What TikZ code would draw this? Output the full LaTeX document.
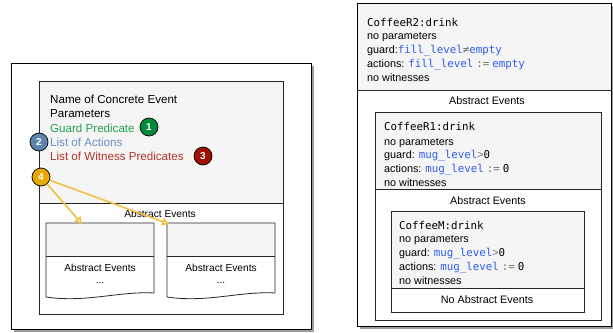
\documentclass[tikz,border=0pt]{standalone}
\usepackage{fontspec}
\setmainfont{Liberation Sans}
\setmonofont{DejaVu Sans Mono}
\usetikzlibrary{arrows.meta,shadows}
\definecolor{boxgray}{HTML}{F5F5F5}
\definecolor{gtext}{HTML}{23A04E}
\definecolor{gcirc}{HTML}{008A3A}
\definecolor{btext}{HTML}{6C8EBF}
\definecolor{bcirc}{HTML}{5E83AE}
\definecolor{rtext}{HTML}{B5332A}
\definecolor{rcirc}{HTML}{A20F05}
\definecolor{ycirc}{HTML}{E8A800}
\definecolor{yarrow}{HTML}{F2C044}
\definecolor{code}{HTML}{2E5CF0}
\definecolor{opgray}{HTML}{707070}
\newcommand{\cd}[1]{{\ttfamily\color{code}#1}}
\newcommand{\op}[1]{{\ttfamily\color{opgray}#1}}
\tikzset{
  outerbox/.style={draw=black, line width=0.9pt, fill=white, drop shadow={shadow xshift=2.5pt, shadow yshift=-2.5pt, fill=black!55, opacity=0.7}},
  ebox/.style={draw=black!85, line width=0.8pt},
  topfill/.style={fill=boxgray},
  bigtxt/.style={anchor=base west, inner sep=0pt, font=\fontsize{11.6}{14}\selectfont},
  txt/.style={anchor=base west, inner sep=0pt, font=\fontsize{10.8}{13}\selectfont},
  ctxt/.style={anchor=base, inner sep=0pt, font=\fontsize{10.8}{13}\selectfont},
  stxt/.style={anchor=base, inner sep=0pt, font=\fontsize{10.2}{12}\selectfont},
  badge/.style={circle, draw=black, line width=0.7pt, minimum size=18pt, inner sep=0pt, text=white, font=\fontsize{10}{10}\selectfont\bfseries},
  yarr/.style={draw=yarrow, line width=1.6pt, -{Triangle[open,length=7pt,width=8pt]}},
}
\begin{document}
\begin{tikzpicture}[x=1pt,y=-1pt]
\useasboundingbox (0,0) rectangle (613,332);

% ---------------- left diagram ----------------
\path[outerbox] (11,63) rectangle (311,329);
\fill[topfill] (39,81) rectangle (283,203);
\draw[ebox] (39,81) rectangle (283,314);
\draw[ebox] (39,203) -- (283,203);

\node[bigtxt] (name) at (50,103) {Name of Concrete Event};
\node[bigtxt] (params) at (50,117) {Parameters};
\node[bigtxt, text=gtext] (guard) at (50,132) {Guard Predicate};
\node[bigtxt, text=btext] (actions) at (50,146) {List of Actions};
\node[bigtxt, text=rtext] (witness) at (50,160) {List of Witness Predicates};

\node[stxt] (absL) at (160,217) {Abstract Events};

% documents
\foreach \xl/\xr/\nm in {46/154/docA, 167/275/docB}{
  \path[fill=boxgray] (\xl,223) rectangle (\xr,256);
  \draw[ebox, line join=round] (\xl,223) -- (\xr,223) -- (\xr,293)
     .. controls ({\xr-35},291) and ({\xl+40},303) .. (\xl,297) -- cycle;
  \draw[ebox] (\xl,256) -- (\xr,256);
  \coordinate (\nm) at ({(\xl+\xr)/2},223);
}
\node[stxt] (docAtxt) at (100,271) {Abstract Events};
\node[stxt] (docAdots) at (100,283) {...};
\node[stxt] (docBtxt) at (221,271) {Abstract Events};
\node[stxt] (docBdots) at (221,283) {...};

\coordinate (tipA) at (82,224);
\coordinate (tipB) at (169,224);

\node[badge, fill=gcirc] (b1) at (149,127) {1};
\node[badge, fill=bcirc] (b2) at (39,142) {2};
\node[badge, fill=rcirc] (b3) at (203,156) {3};
\node[badge, fill=ycirc] (b4) at (41,177) {4};

\draw[yarr] (b4) -- (tipA);
\draw[yarr] (b4) -- (tipB);

% ---------------- right diagram ----------------
\path[outerbox] (357,3) rectangle (611,326);
\fill[topfill] (357,3) rectangle (611,90);
\draw[line width=0.9pt] (357,3) rectangle (611,326);
\draw[ebox] (357,90) -- (611,90);

\node[txt] (r2name) at (367,26) {\ttfamily CoffeeR2:drink};
\node[txt] (r2par) at (367,39) {no parameters};
\node[txt] (r2grd) at (367,53) {guard:\cd{fill\_level}\op{≠}\cd{empty}};
\node[txt] (r2act) at (367,67) {actions: \cd{fill\_level} \op{:=} \cd{empty}};
\node[txt] (r2wit) at (367,81) {no witnesses};
\node[ctxt] (r2abs) at (487,104) {Abstract Events};

\fill[topfill] (375,112) rectangle (601,189);
\draw[ebox] (375,112) rectangle (601,320);
\draw[ebox] (375,189) -- (601,189);
\node[txt] (r1name) at (384,130) {\ttfamily CoffeeR1:drink};
\node[txt] (r1par) at (384,145) {no parameters};
\node[txt] (r1grd) at (384,158) {guard: \cd{mug\_level}{\color{opgray}>}\texttt{0}};
\node[txt] (r1act) at (384,172) {actions: \cd{mug\_level} \op{:=} \texttt{0}};
\node[txt] (r1wit) at (384,186) {no witnesses};
\node[ctxt] (r1abs) at (488,204) {Abstract Events};

\fill[topfill] (391,211) rectangle (584,288);
\draw[ebox] (391,211) rectangle (584,312);
\draw[ebox] (391,288) -- (584,288);
\node[txt] (mname) at (399,229) {\ttfamily CoffeeM:drink};
\node[txt] (mpar) at (399,242) {no parameters};
\node[txt] (mgrd) at (399,256) {guard: \cd{mug\_level}{\color{opgray}>}\texttt{0}};
\node[txt] (mact) at (399,270) {actions: \cd{mug\_level} \op{:=} \texttt{0}};
\node[txt] (mwit) at (399,284) {no witnesses};
\node[ctxt] (mabs) at (487,303) {No Abstract Events};
\end{tikzpicture}
\end{document}
